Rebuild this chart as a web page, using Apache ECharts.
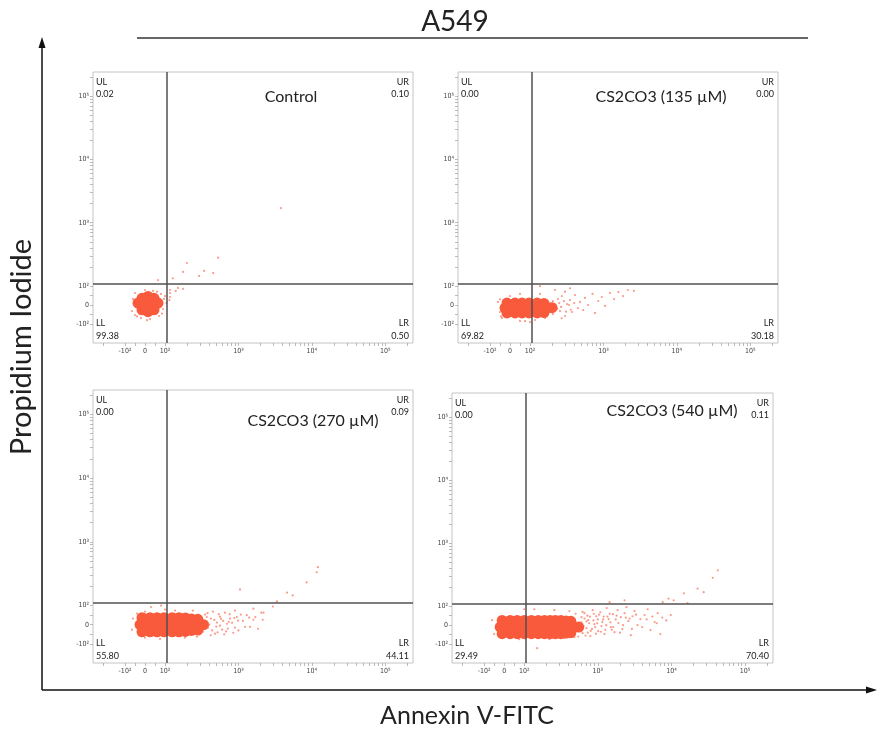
<!DOCTYPE html>
<html>
<head>
<meta charset="utf-8">
<title>A549</title>
<script src="https://cdn.jsdelivr.net/npm/echarts@6/dist/echarts.min.js"></script>
<style>
  html, body { margin: 0; background: #fff; }
  #main { width: 878px; height: 733px; }
</style>
</head>
<body>
<div id="main"></div>
<script>
// NOTE - panel texts and quadrant percentages
const panelNames = ['Control', 'CS2CO3 (135 µM)', 'CS2CO3 (270 µM)', 'CS2CO3 (540 µM)']
const ulPct = ['0.02', '0.00', '0.00', '0.00']
const urPct = ['0.10', '0.00', '0.09', '0.11']
const llPct = ['99.38', '69.82', '55.80', '29.49']
const lrPct = ['0.50', '30.18', '44.11', '70.40']

// NOTE - axis ticks (biexponential) and quadrant gates
const tickValues = [-100, 0, 100, 1000, 10000, 100000]
const tickLabels = ['-10²', '0', '10²', '10³', '10⁴', '10⁵']
const gateX = 105
const gateY = 110

// NOTE - events [Annexin V-FITC, PI]; "core" = dense population, "events" = single dots
const controlCore = [[15, 5], [-20, 5], [50, 5], [15, 45], [15, -35], [-15, 35], [45, 35], [-15, -25], [45, -25],
  [-35, 10], [65, 10], [0, 20], [30, 20], [0, -10], [30, -10]]
const controlEvents = [[-60, 32], [-65, -32], [-50, 63], [0, 79], [40, 74], [80, 58], [95, 32], [90, -21], [70, -58],
  [25, -74], [-20, -68], [-50, -53], [105, 11], [117, 42], [117, 63], [100, 47], [115, 26], [65, 124], [128, 132],
  [176, 167], [199, 231], [291, 144], [341, 173], [453, 160], [530, 280], [3800, 1700], [117, 79], [150, 90],
  [176, 85], [140, 74], [-55, 0], [85, -45], [60, 70], [-40, -60], [10, -80], [75, 5]]

const c135Core = [[-25, -16], [10, -16], [45, -16], [80, -16], [110, -16], [137, -16], [170, -16],
  [-15, -42], [25, -42], [60, -42], [95, -42], [125, -42], [155, -40],
  [-15, 10], [25, 10], [60, 10], [95, 10], [125, 10], [155, 8], [200, -14]]
const c135Events = [[187, 10], [205, -48], [225, -5], [240, 31], [256, -32], [272, 47], [300, -58], [320, 5],
  [351, 26], [375, -37], [411, 52], [450, -16], [480, 16], [530, -27], [562, 37], [620, 0], [710, 58], [769, -42],
  [850, 21], [950, 42], [1052, -5], [1230, 63], [1400, 31], [1600, 68], [1850, 47], [2150, 79], [2600, 74],
  [351, 88], [219, 79], [137, 99], [100, -90], [50, -84], [-40, -69], [-60, 16], [-50, -37], [117, -79],
  [160, -69], [137, 58], [50, 58], [0, 47], [-45, -60], [75, -85], [-50, 30], [270, -70], [300, 70],
  [205, 20], [215, -30], [235, -20], [250, 10], [265, -10], [290, 20], [310, -35], [340, 0], [360, -25], [400, 10]]

const c270Core = [[-25, 0], [10, 0], [45, 0], [80, 0], [110, 0], [137, 0], [170, 0], [205, 0], [250, 0], [300, 0], [335, 0],
  [-15, -37], [25, -37], [60, -37], [95, -37], [125, -37], [155, -37], [190, -35], [230, -30], [280, -28],
  [-15, 37], [25, 37], [60, 37], [95, 37], [125, 37], [155, 37], [190, 35], [230, 30], [280, 28]]
const c270Events = [[300, 26], [330, -37], [351, 53], [385, -16], [420, 32], [450, 68], [480, -47], [510, 11],
  [562, 42], [600, -26], [657, 63], [700, 5], [769, 32], [850, -42], [899, 74], [990, 21], [1080, 53], [1230, -11],
  [1400, 37], [1600, 84], [1850, -21], [2050, 63], [2150, 26], [1052, 179], [3350, 116], [4600, 160], [5500, 144],
  [8500, 231], [11700, 333], [12100, 400], [2950, 95], [2200, 63], [1600, 26], [1440, -11], [-60, 32], [-65, -26],
  [0, 68], [0, -68], [75, -74], [137, 74], [187, -68], [240, 74], [100, 79], [272, -63], [-40, 58], [380, 60],
  [420, -55], [520, -40], [540, 55], [620, 20], [640, -50], [720, -20], [760, 55], [820, 10], [900, -15], [950, 40],
  [1150, 20], [1300, 50], [1700, 40], [80, 100], [30, 92],
  [360, -20], [370, 40], [400, 0], [440, -30], [470, 25], [500, -10], [560, -5], [580, 30], [680, -35], [740, 15],
  [880, 35], [1000, -30]]

const c540Core = [[-20, -10], [15, -10], [50, -10], [85, -10], [112, -10], [140, -10], [170, -10], [205, -10],
  [245, -10], [290, -10], [340, -10], [400, -10], [470, -10], [550, -10],
  [-10, -45], [30, -45], [65, -45], [100, -45], [125, -45], [155, -45], [188, -45], [225, -45], [265, -45],
  [315, -45], [370, -42], [430, -40],
  [-10, 25], [30, 25], [65, 25], [100, 25], [125, 25], [155, 25], [188, 25], [225, 25], [265, 25], [315, 25],
  [370, 22], [430, 20]]
const c540Events = [[600, 42], [620, -42], [657, 63], [700, -16], [740, 26], [790, -58], [850, 79], [899, 5],
  [950, 47], [1010, -32], [1080, 68], [1150, 16], [1230, -47], [1320, 90], [1400, 32], [1500, -11], [1600, 58],
  [1683, -37], [1850, 79], [1900, 11], [2050, 42], [2150, -21], [2303, 63], [2450, 95], [2600, 21], [2800, -53],
  [2950, 47], [3150, 74], [3450, 0], [3780, 32], [4313, 53], [4750, 84], [5200, -26], [5900, 16], [6500, 63],
  [7050, -47], [219, -74], [351, -68], [137, 84], [480, -63], [-60, 26], [-50, -47], [75, -74], [256, 79],
  [411, 74], [100, 84], [2303, 124], [1440, 116], [42600, 370], [36400, 282], [27400, 167], [22600, 190],
  [14700, 160], [10700, 124], [7600, 116], [9100, 132], [16500, 112], [9800, 53], [150, -116], [500, 60],
  [540, -60], [620, 70], [680, -55], [720, 50], [800, -30], [880, 60], [920, -10], [1000, 30], [1100, -35],
  [1200, 45], [1300, 0], [1450, 60], [1550, -25], [1750, 30], [2000, -40], [2400, 40], [2900, -20], [3300, 55],
  [4000, -10], [4600, 30], [5500, 45], [6300, 10], [7500, 40], [8500, 25],
  [560, 5], [580, -30], [600, 15], [640, -5], [660, 35], [700, 20], [730, -40], [760, 10], [780, 45], [830, -20],
  [870, 25], [940, -45], [980, 10], [1040, 55], [1120, -5], [1180, 30], [1260, -25], [1350, 45], [1480, 15],
  [1620, -10], [1800, 50], [2200, 0], [2700, 35]]

const panelCore = [controlCore, c135Core, c270Core, c540Core]
const panelEvents = [controlEvents, c135Events, c270Events, c540Events]

// NOTE - layout
const layout = [
  { left: 93, top: 72, width: 320, height: 271 },
  { left: 458, top: 72, width: 320, height: 271 },
  { left: 93, top: 390, width: 320, height: 273 },
  { left: 452, top: 393, width: 321, height: 270 }
]
const titlePos = [[291, 97], [661, 97], [313, 421], [672, 411]]

// NOTE - biexponential display scale (linear within ±10², log outside)
const biex = decade => v => Math.abs(v) <= 100 ? v / 100
  : Math.sign(v) * (1 + Math.log10(Math.abs(v) / 100) * decade)
const bx = biex(3.67)
const by = biex(3.33)
const X_MIN = -2.6, X_MAX = 13.4, Y_MIN = -2.0, Y_MAX = 12.26

const minorRaw = []
for (let e = 2; e <= 5; e++) for (let k = 2; k <= 9; k++) minorRaw.push(k * 10 ** e)
minorRaw.push(-50, 50, -200)

const labeller = fn => {
  const m = {}
  tickValues.forEach((v, i) => { m[fn(v).toFixed(3)] = tickLabels[i] })
  return v => m[v.toFixed(3)] ?? ''
}

const makeAxis = (fn, min, max, gridIndex, isX) => {
  const major = tickValues.map(fn)
  const ticks = major.concat(minorRaw.map(fn)).filter(t => t > min && t < max)
  return {
    type: 'value', gridIndex, min, max,
    position: isX ? 'bottom' : 'left',
    axisLine: { show: false, onZero: false },
    splitLine: { show: false },
    axisTick: { show: true, customValues: ticks, length: 3, lineStyle: { color: '#aaa', width: 0.8 } },
    axisLabel: {
      customValues: major, formatter: labeller(fn), fontSize: 7, color: '#444',
      fontFamily: 'DejaVu Sans Condensed', margin: isX ? 5 : 4
    }
  }
}

const grids = [], xAxes = [], yAxes = [], series = [], graphics = []
const font = 'Lato'

const txt = (x, y, text, size, align, extra) => Object.assign({
  type: 'text', x, y, silent: true,
  style: { text, fontSize: size, fontFamily: font, fill: '#222', textAlign: align || 'left', textVerticalAlign: 'middle' }
}, extra || {})

layout.forEach((g, i) => {
  grids.push({ left: g.left, top: g.top, width: g.width, height: g.height, show: true,
    borderColor: '#c4c4c4', borderWidth: 1, containLabel: false, outerBoundsMode: 'none' })
  xAxes.push(makeAxis(bx, X_MIN, X_MAX, i, true))
  yAxes.push(makeAxis(by, Y_MIN, Y_MAX, i, false))
  series.push({
    type: 'scatter', xAxisIndex: i, yAxisIndex: i, symbolSize: 11, silent: true,
    itemStyle: { color: '#f95a3c', opacity: 1 },
    data: panelCore[i].map(d => [bx(d[0]), by(d[1])])
  })
  series.push({
    type: 'scatter', xAxisIndex: i, yAxisIndex: i, symbolSize: 2.2, silent: true,
    itemStyle: { color: '#f8654a', opacity: 0.65 },
    data: panelEvents[i].map(d => [bx(d[0]), by(d[1])])
  })
  series.push({
    type: 'scatter', xAxisIndex: i, yAxisIndex: i, z: 10, silent: true, data: [],
    markLine: {
      silent: true, symbol: 'none', animation: false, label: { show: false },
      lineStyle: { color: '#505050', width: 1.5, type: 'solid' },
      data: [{ xAxis: bx(gateX) }, { yAxis: by(gateY) }]
    }
  })
  const L = g.left, R = g.left + g.width, T = g.top, B = g.top + g.height
  graphics.push(
    txt(L + 3, T + 10, 'UL', 9), txt(L + 3, T + 22, ulPct[i], 9),
    txt(R - 4, T + 10, 'UR', 9, 'right'), txt(R - 4, T + 22, urPct[i], 9, 'right'),
    txt(L + 3, B - 20, 'LL', 9), txt(L + 3, B - 7, llPct[i], 9),
    txt(R - 4, B - 20, 'LR', 9, 'right'), txt(R - 4, B - 7, lrPct[i], 9, 'right'),
    txt(titlePos[i][0], titlePos[i][1], panelNames[i], 16, 'center')
  )
})

// NOTE - figure titles and arrows
graphics.push(
  txt(455, 22, 'A549', 28, 'center'),
  { type: 'line', silent: true, shape: { x1: 137, y1: 38, x2: 808, y2: 38 }, style: { stroke: '#333', lineWidth: 1.5 } },
  { type: 'line', silent: true, shape: { x1: 42, y1: 690, x2: 42, y2: 46 }, style: { stroke: '#111', lineWidth: 1.5 } },
  { type: 'polygon', silent: true, shape: { points: [[42, 37], [38.5, 48], [45.5, 48]] }, style: { fill: '#111' } },
  { type: 'line', silent: true, shape: { x1: 42, y1: 690, x2: 868, y2: 690 }, style: { stroke: '#111', lineWidth: 1.5 } },
  { type: 'polygon', silent: true, shape: { points: [[877, 690], [866, 686.5], [866, 693.5]] }, style: { fill: '#111' } },
  txt(22, 347, 'Propidium Iodide', 29, 'center', { rotation: Math.PI / 2 }),
  txt(467, 716, 'Annexin V-FITC', 25, 'center')
)

const myChart = echarts.init(document.querySelector('#main'))
myChart.setOption({
  animation: false,
  backgroundColor: '#fff',
  grid: grids,
  xAxis: xAxes,
  yAxis: yAxes,
  series,
  graphic: { elements: graphics }
})
</script>
</body>
</html>
